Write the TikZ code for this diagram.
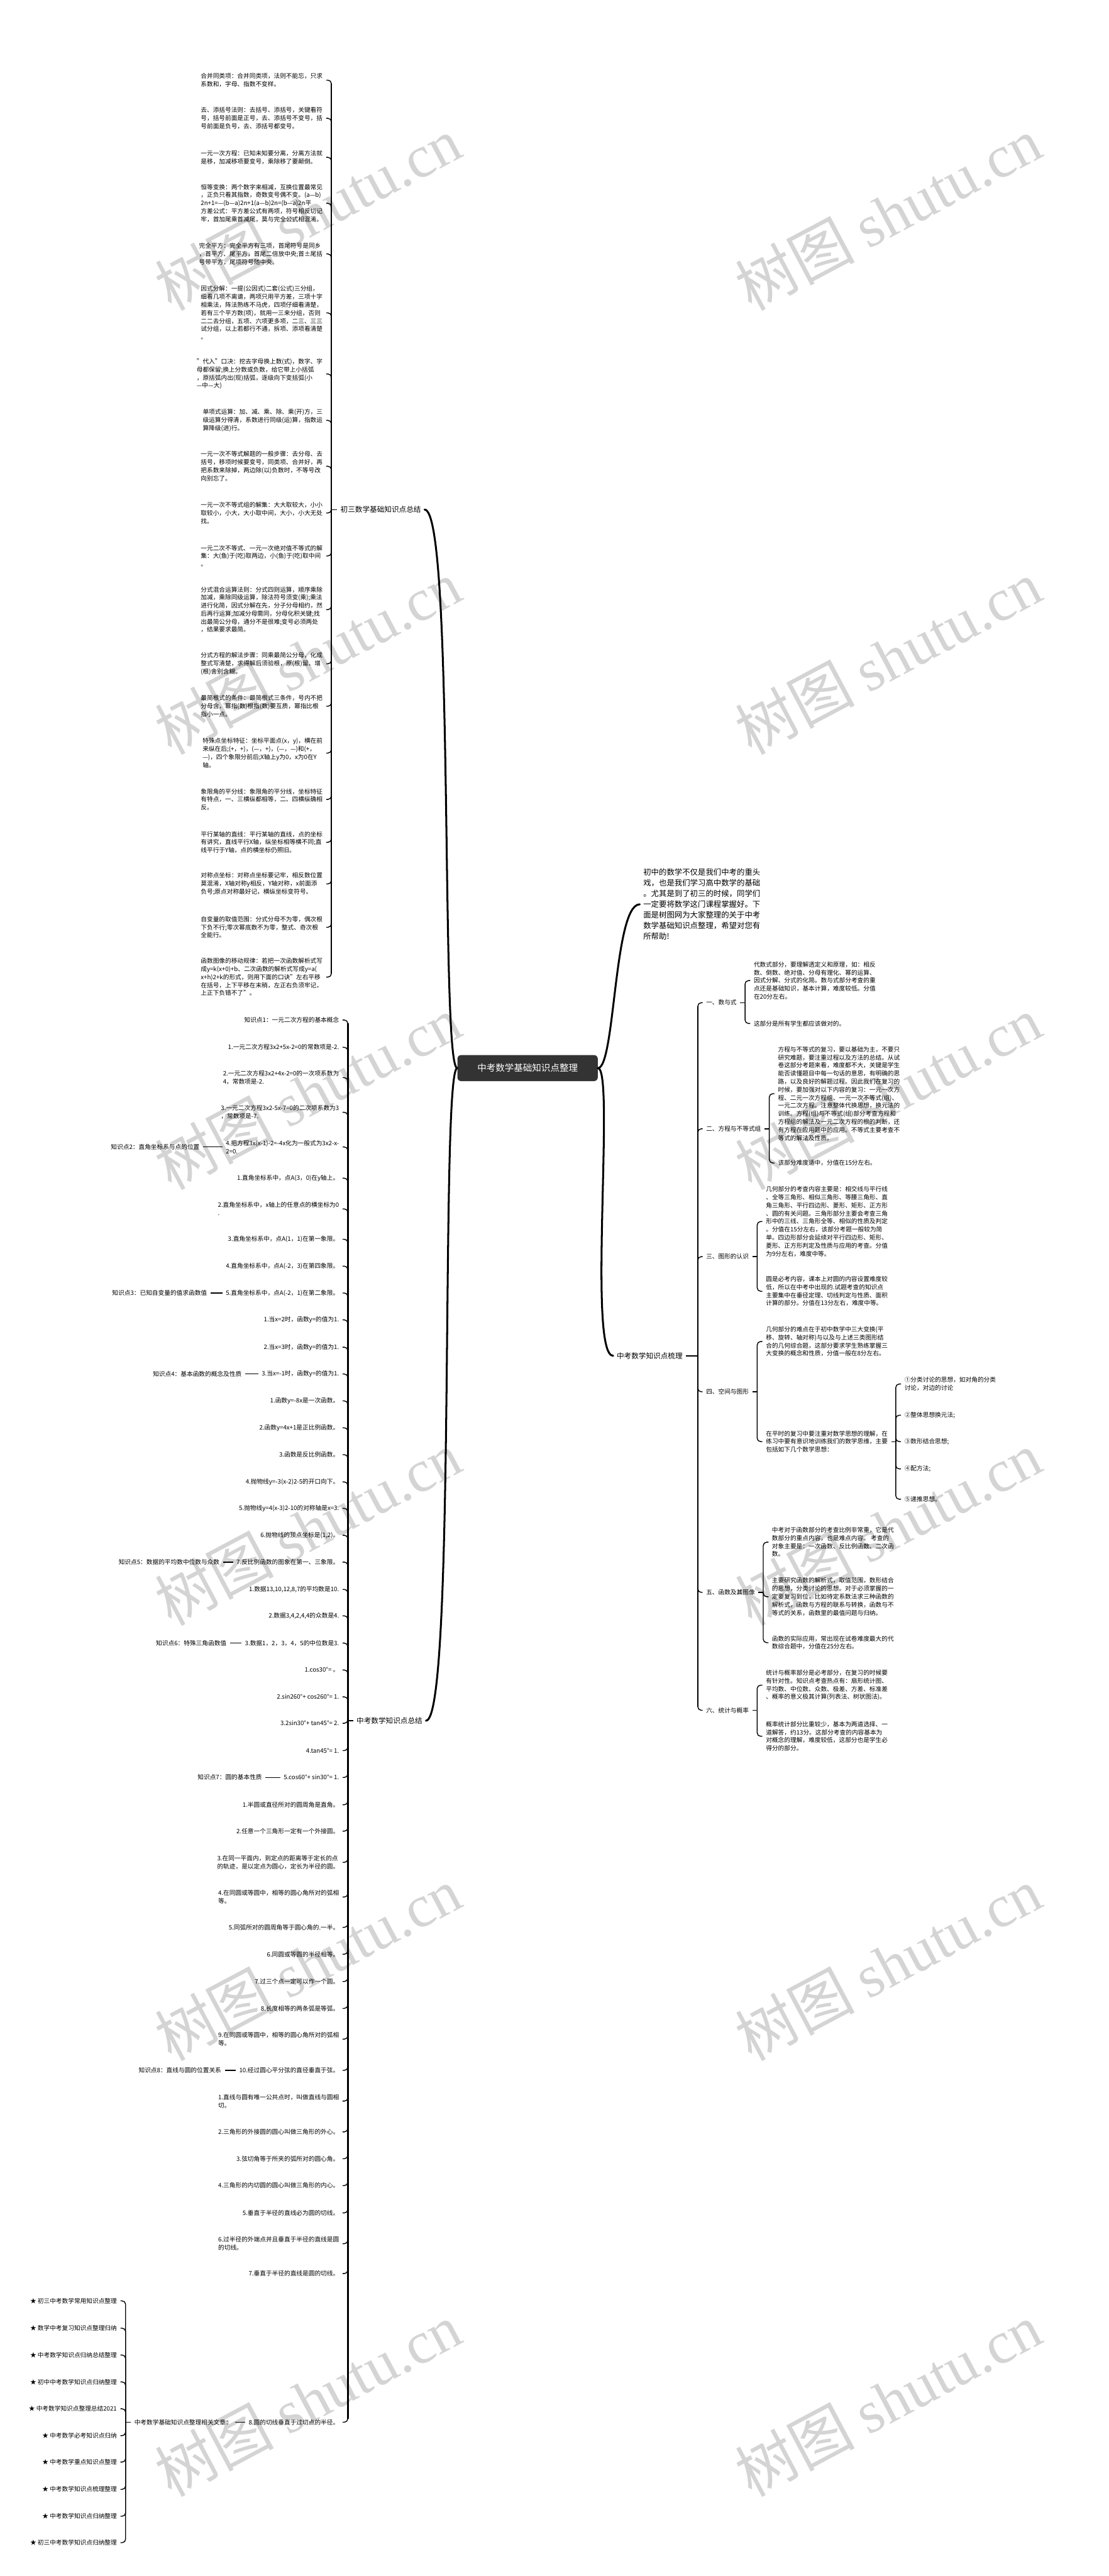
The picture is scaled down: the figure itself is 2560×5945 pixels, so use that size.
\documentclass[tikz,border=0pt]{standalone}
\usepackage{fontspec}
\setmainfont{Noto Sans CJK SC}
\newfontfamily\wmfont{Liberation Serif}
\usetikzlibrary{positioning,calc}
\definecolor{rootgray}{RGB}{51,51,51}
\definecolor{wmgray}{RGB}{212,212,212}

\begin{document}
\begin{tikzpicture}[x=0.25mm, y=-0.25mm,
    root/.style={fill=rootgray, text=white, rounded corners=6pt, minimum width=81mm,
      minimum height=15mm, font=\fontsize{15}{17}\selectfont},
    topic/.style={inner xsep=2mm, inner ysep=1mm, font=\fontsize{12}{15}\selectfont},
    sub/.style={inner xsep=2mm, inner ysep=1mm, font=\fontsize{10}{13.2}\selectfont},
    leaf/.style={align=left, inner xsep=2mm, inner ysep=1mm, font=\fontsize{10}{13.2}\selectfont},
    intro/.style={align=left, inner xsep=2mm, font=\fontsize{12.8}{17.6}\selectfont},
    wm/.style={text=wmgray, rotate=28, font=\fontsize{98}{98}\selectfont},
    limb/.style={line width=1.1mm, line cap=round},
    spine/.style={line width=1mm, shorten <=2mm, shorten >=2mm},
    twig/.style={line width=0.5mm, rounded corners=2mm}
  ]
  \path[use as bounding box] (0,0) rectangle (2560,5945);
  \foreach \wx/\wy in {710/493, 2050/493, 710/1517, 2050/1517, 710/2522, 2050/2522,
      710/3527, 2050/3527, 710/4532, 2050/4532, 710/5538, 2050/5538}
    \node[wm] (wm-\wx-\wy) at (\wx,\wy) {树图 {\wmfont shutu.cn}};

  \node[root] (root) at (1218,2465) {中考数学基础知识点整理};
  \node[intro, anchor=west] (intro) at (1477,2087)
    {初中的数学不仅是我们中考的重头\\戏，也是我们学习高中数学的基础\\。尤其是到了初三的时候，同学们\\一定要将数学这门课程掌握好。下\\面是树图网为大家整理的关于中考\\数学基础知识点整理，希望对您有\\所帮助!};

  % 初三数学基础知识点总结
  \node[topic, anchor=west] (b1) at (778,1176) {初三数学基础知识点总结};
  \node[leaf, anchor=east] (a1) at (753,185) {合并同类项：合并同类项，法则不能忘，只求\\系数和，字母、指数不变样。};
  \node[leaf, anchor=east] (a2) at (753,273) {去、添括号法则：去括号、添括号，关键看符\\号，括号前面是正号，去、添括号不变号，括\\号前面是负号，去、添括号都变号。};
  \node[leaf, anchor=east] (a3) at (753,363) {一元一次方程：已知未知要分离，分离方法就\\是移，加减移项要变号，乘除移了要颠倒。};
  \node[leaf, anchor=east] (a4) at (753,469) {恒等变换：两个数字来相减，互换位置最常见\\，正负只看其指数，奇数变号偶不变。(a—b)\\2n+1=—(b—a)2n+1(a—b)2n=(b—a)2n平\\方差公式：平方差公式有两项，符号相反切记\\牢，首加尾乘首减尾，莫与完全公式相混淆。};
  \node[leaf, anchor=east] (a5) at (753,586) {完全平方：完全平方有三项，首尾符号是同乡\\，首平方、尾平方，首尾二倍放中央;首±尾括\\号带平方，尾项符号随中央。};
  \node[leaf, anchor=east] (a6) at (753,722) {因式分解：一提(公因式)二套(公式)三分组，\\细看几项不离谱，两项只用平方差，三项十字\\相乘法，阵法熟练不马虎，四项仔细看清楚，\\若有三个平方数(项)，就用一三来分组，否则\\二二去分组，五项、六项更多项，二三、三三\\试分组，以上若都行不通，拆项、添项看清楚\\。};
  \node[leaf, anchor=east] (a7) at (753,863) {"代入"口决：挖去字母换上数(式)，数字、字\\母都保留;换上分数或负数，给它带上小括弧\\，原括弧内出(现)括弧，逐级向下变括弧(小\\—中—大)};
  \node[leaf, anchor=east] (a8) at (753,970) {单项式运算：加、减、乘、除、乘(开)方，三\\级运算分得清，系数进行同级(运)算，指数运\\算降级(进)行。};
  \node[leaf, anchor=east] (a9) at (753,1076) {一元一次不等式解题的一般步骤：去分母、去\\括号，移项时候要变号，同类项、合并好，再\\把系数来除掉，两边除(以)负数时，不等号改\\向别忘了。};
  \node[leaf, anchor=east] (a10) at (753,1184) {一元一次不等式组的解集：大大取较大，小小\\取较小，小大，大小取中间，大小，小大无处\\找。};
  \node[leaf, anchor=east] (a11) at (753,1283) {一元二次不等式、一元一次绝对值不等式的解\\集：大(鱼)于(吃)取两边，小(鱼)于(吃)取中间\\。};
  \node[leaf, anchor=east] (a12) at (753,1407) {分式混合运算法则：分式四则运算，顺序乘除\\加减，乘除同级运算，除法符号须变(乘);乘法\\进行化简，因式分解在先，分子分母相约，然\\后再行运算;加减分母需同，分母化积关键;找\\出最简公分母，通分不是很难;变号必须两处\\，结果要求最简。};
  \node[leaf, anchor=east] (a13) at (753,1532) {分式方程的解法步骤：同乘最简公分母，化成\\整式写清楚，求得解后须验根，原(根)留、增\\(根)舍别含糊。};
  \node[leaf, anchor=east] (a14) at (753,1630) {最简根式的条件：最简根式三条件，号内不把\\分母含，幂指(数)根指(数)要互质，幂指比根\\指小一点。};
  \node[leaf, anchor=east] (a15) at (753,1738) {特殊点坐标特征：坐标平面点(x，y)，横在前\\来纵在后;(+，+)，(—，+)，(—，—)和(+，\\—)，四个象限分前后;X轴上y为0，x为0在Y\\轴。};
  \node[leaf, anchor=east] (a16) at (753,1845) {象限角的平分线：象限角的平分线，坐标特征\\有特点，一、三横纵都相等，二、四横纵确相\\反。};
  \node[leaf, anchor=east] (a17) at (753,1944) {平行某轴的直线：平行某轴的直线，点的坐标\\有讲究，直线平行X轴，纵坐标相等横不同;直\\线平行于Y轴，点的横坐标仍照旧。};
  \node[leaf, anchor=east] (a18) at (753,2040) {对称点坐标：对称点坐标要记牢，相反数位置\\莫混淆，X轴对称y相反，Y轴对称，x前面添\\负号;原点对称最好记，横纵坐标变符号。};
  \node[leaf, anchor=east] (a19) at (753,2140) {自变量的取值范围：分式分母不为零，偶次根\\下负不行;零次幂底数不为零，整式、奇次根\\全能行。};
  \node[leaf, anchor=east] (a20) at (753,2255) {函数图像的移动规律：若把一次函数解析式写\\成y=k(x+0)+b、二次函数的解析式写成y=a(\\x+h)2+k的形式，则用下面的口诀"左右平移\\在括号，上下平移在末稍，左正右负须牢记，\\上正下负错不了"。};

  % 中考数学知识点梳理
  \node[topic, anchor=east] (b2) at (1584,3129) {中考数学知识点梳理};
  \node[sub, anchor=west] (t1) at (1622,2314) {一、数与式};
  \node[sub, anchor=west] (t2) at (1622,2605) {二、方程与不等式组};
  \node[sub, anchor=west] (t3) at (1622,2900) {三、图形的认识};
  \node[sub, anchor=west] (t4) at (1622,3212) {四、空间与图形};
  \node[sub, anchor=west] (t5) at (1622,3675) {五、函数及其图像};
  \node[sub, anchor=west] (t6) at (1622,3947) {六、统计与概率};
  \node[leaf, anchor=west] (pA) at (1732,2263) {代数式部分，要理解透定义和原理，如：相反\\数、倒数、绝对值、分母有理化、幂的运算、\\因式分解、分式的化简。数与式部分考查的重\\点还是基础知识，基本计算，难度较低。分值\\在20分左右。};
  \node[leaf, anchor=west] (pB) at (1732,2362) {这部分是所有学生都应该做对的。};
  \node[leaf, anchor=west] (pC) at (1788,2524) {方程与不等式的复习，要以基础为主，不要只\\研究难题，要注重过程以及方法的总结。从试\\卷这部分考题来看，难度都不大，关键是学生\\能否读懂题目中每一句话的意思，有明确的思\\路，以及良好的解题过程。因此我们在复习的\\时候，要加强对以下内容的复习：一元一次方\\程、二元一次方程组、一元一次不等式(组)、\\一元二次方程。注意整体代换思想，换元法的\\训练。方程(组)与不等式(组)部分考查方程和\\方程组的解法及一元二次方程的根的判断，还\\有方程在应用题中的应用。不等式主要考查不\\等式的解法及性质。};
  \node[leaf, anchor=west] (pD) at (1788,2684) {该部分难度适中，分值在15分左右。};
  \node[leaf, anchor=west] (pE) at (1760,2819) {几何部分的考查内容主要是：相交线与平行线\\、全等三角形、相似三角形、等腰三角形、直\\角三角形、平行四边形、菱形、矩形、正方形\\、圆的有关问题。三角形部分主要会考查三角\\形中的三线、三角形全等、相似的性质及判定\\。分值在15分左右，该部分考题一般较为简\\单。四边形部分会延续对平行四边形、矩形、\\菱形、正方形判定及性质与应用的考查。分值\\为9分左右，难度中等。};
  \node[leaf, anchor=west] (pF) at (1760,2980) {圆是必考内容，课本上对圆的内容设置难度较\\低，所以在中考中出现的.试题考查的知识点\\主要集中在垂径定理、切线判定与性质、面积\\计算的部分。分值在13分左右，难度中等。};
  \node[leaf, anchor=west] (pG) at (1760,3096) {几何部分的难点在于初中数学中三大变换(平\\移、旋转、轴对称)与以及与上述三类图形结\\合的几何综合题，这部分要求学生熟练掌握三\\大变换的概念和性质，分值一般在8分左右。};
  \node[leaf, anchor=west] (pH) at (1760,3327) {在平时的复习中要注重对数学思想的理解，在\\练习中要有意识地训练我们的数学思维，主要\\包括如下几个数学思想：};
  \node[leaf, anchor=west] (m1) at (2080,3194) {①分类讨论的思想，如对角的分类\\讨论，对边的讨论};
  \node[leaf, anchor=west] (m2) at (2080,3266) {②整体思想换元法;};
  \node[leaf, anchor=west] (m3) at (2080,3327) {③数形结合思想;};
  \node[leaf, anchor=west] (m4) at (2080,3390) {④配方法;};
  \node[leaf, anchor=west] (m5) at (2080,3460) {⑤递推思想。};
  \node[leaf, anchor=west] (pI) at (1774,3559) {中考对于函数部分的考查比例非常重，它是代\\数部分的重点内容，也是难点内容。 考查的\\对象主要是：一次函数、反比例函数、二次函\\数。};
  \node[leaf, anchor=west] (pJ) at (1774,3685) {主要研究函数的解析式，取值范围，数形结合\\的思想，分类讨论的思想。对于必须掌握的一\\定要复习到位，比如待定系数法求三种函数的\\解析式，函数与方程的联系与转换，函数与不\\等式的关系，函数里的最值问题与归纳。};
  \node[leaf, anchor=west] (pK) at (1774,3791) {函数的实际应用，常出现在试卷难度最大的代\\数综合题中，分值在25分左右。};
  \node[leaf, anchor=west] (pL) at (1760,3889) {统计与概率部分是必考部分，在复习的时候要\\有针对性。知识点考查热点有：扇形统计图、\\平均数、中位数、众数、极差、方差、标准差\\、概率的意义极其计算(列表法、树状图法)。};
  \node[leaf, anchor=west] (pM) at (1760,4007) {概率统计部分比重较少，基本为两道选择、一\\道解答，约13分。这部分考查的内容基本为\\对概念的理解，难度较低，这部分也是学生必\\得分的部分。};

  % 中考数学知识点总结
  \node[topic, anchor=west] (b3) at (815,3971) {中考数学知识点总结};
  \node[leaf, anchor=east] (c1) at (791,2354) {知识点1：一元二次方程的基本概念};
  \node[leaf, anchor=east] (c2) at (791,2417) {1.一元二次方程3x2+5x-2=0的常数项是-2.};
  \node[leaf, anchor=east] (c3) at (791,2487) {2.一元二次方程3x2+4x-2=0的一次项系数为\\4，常数项是-2.};
  \node[leaf, anchor=east] (c4) at (791,2567) {3.一元二次方程3x2-5x-7=0的二次项系数为3\\，常数项是-7.};
  \node[leaf, anchor=east] (c5) at (791,2647) {4.把方程3x(x-1)-2=-4x化为一般式为3x2-x-\\2=0.};
  \node[leaf, anchor=east] (c6) at (791,2719) {1.直角坐标系中，点A(3，0)在y轴上。};
  \node[leaf, anchor=east] (c7) at (791,2790) {2.直角坐标系中，x轴上的任意点的横坐标为0\\.};
  \node[leaf, anchor=east] (c8) at (791,2860) {3.直角坐标系中，点A(1，1)在第一象限。};
  \node[leaf, anchor=east] (c9) at (791,2922) {4.直角坐标系中，点A(-2，3)在第四象限。};
  \node[leaf, anchor=east] (c10) at (791,2984) {5.直角坐标系中，点A(-2，1)在第二象限。};
  \node[leaf, anchor=east] (c11) at (791,3046) {1.当x=2时，函数y=的值为1.};
  \node[leaf, anchor=east] (c12) at (791,3109) {2.当x=3时，函数y=的值为1.};
  \node[leaf, anchor=east] (c13) at (791,3171) {3.当x=-1时，函数y=的值为1.};
  \node[leaf, anchor=east] (c14) at (791,3233) {1.函数y=-8x是一次函数。};
  \node[leaf, anchor=east] (c15) at (791,3295) {2.函数y=4x+1是正比例函数。};
  \node[leaf, anchor=east] (c16) at (791,3357) {3.函数是反比例函数。};
  \node[leaf, anchor=east] (c17) at (791,3420) {4.抛物线y=-3(x-2)2-5的开口向下。};
  \node[leaf, anchor=east] (c18) at (791,3481) {5.抛物线y=4(x-3)2-10的对称轴是x=3.};
  \node[leaf, anchor=east] (c19) at (791,3543) {6.抛物线的顶点坐标是(1,2)。};
  \node[leaf, anchor=east] (c20) at (791,3605) {7.反比例函数的图象在第一、三象限。};
  \node[leaf, anchor=east] (c21) at (791,3668) {1.数据13,10,12,8,7的平均数是10.};
  \node[leaf, anchor=east] (c22) at (791,3729) {2.数据3,4,2,4,4的众数是4.};
  \node[leaf, anchor=east] (c23) at (791,3792) {3.数据1，2，3，4，5的中位数是3.};
  \node[leaf, anchor=east] (c24) at (791,3854) {1.cos30°= 。};
  \node[leaf, anchor=east] (c25) at (791,3916) {2.sin260°+ cos260°= 1.};
  \node[leaf, anchor=east] (c26) at (791,3977) {3.2sin30°+ tan45°= 2.};
  \node[leaf, anchor=east] (c27) at (791,4040) {4.tan45°= 1.};
  \node[leaf, anchor=east] (c28) at (791,4102) {5.cos60°+ sin30°= 1.};
  \node[leaf, anchor=east] (c29) at (791,4165) {1.半圆或直径所对的圆周角是直角。};
  \node[leaf, anchor=east] (c30) at (791,4226) {2.任意一个三角形一定有一个外接圆。};
  \node[leaf, anchor=east] (c31) at (791,4298) {3.在同一平面内，到定点的距离等于定长的点\\的轨迹，是以定点为圆心，定长为半径的圆。};
  \node[leaf, anchor=east] (c32) at (791,4378) {4.在同圆或等圆中，相等的圆心角所对的弧相\\等。};
  \node[leaf, anchor=east] (c33) at (791,4448) {5.同弧所对的圆周角等于圆心角的.一半。};
  \node[leaf, anchor=east] (c34) at (791,4510) {6.同圆或等圆的半径相等。};
  \node[leaf, anchor=east] (c35) at (791,4573) {7.过三个点一定可以作一个圆。};
  \node[leaf, anchor=east] (c36) at (791,4635) {8.长度相等的两条弧是等弧。};
  \node[leaf, anchor=east] (c37) at (791,4706) {9.在同圆或等圆中，相等的圆心角所对的弧相\\等。};
  \node[leaf, anchor=east] (c38) at (791,4778) {10.经过圆心平分弦的直径垂直于弦。};
  \node[leaf, anchor=east] (c39) at (791,4849) {1.直线与圆有唯一公共点时，叫做直线与圆相\\切。};
  \node[leaf, anchor=east] (c40) at (791,4920) {2.三角形的外接圆的圆心叫做三角形的外心。};
  \node[leaf, anchor=east] (c41) at (791,4982) {3.弦切角等于所夹的弧所对的圆心角。};
  \node[leaf, anchor=east] (c42) at (791,5044) {4.三角形的内切圆的圆心叫做三角形的内心。};
  \node[leaf, anchor=east] (c43) at (791,5107) {5.垂直于半径的直线必为圆的切线。};
  \node[leaf, anchor=east] (c44) at (791,5178) {6.过半径的外端点并且垂直于半径的直线是圆\\的切线。};
  \node[leaf, anchor=east] (c45) at (791,5247) {7.垂直于半径的直线是圆的切线。};
  \node[leaf, anchor=east] (c46) at (791,5590) {8.圆的切线垂直于过切点的半径。};
  \node[leaf, anchor=east] (k2) at (469,2647) {知识点2：直角坐标系与点的位置};
  \node[leaf, anchor=east] (k3) at (486,2984) {知识点3：已知自变量的值求函数值};
  \node[leaf, anchor=east] (k4) at (566,3171) {知识点4：基本函数的概念及性质};
  \node[leaf, anchor=east] (k5) at (515,3605) {知识点5：数据的平均数中位数与众数};
  \node[leaf, anchor=east] (k6) at (531,3792) {知识点6：特殊三角函数值};
  \node[leaf, anchor=east] (k7) at (613,4102) {知识点7：圆的基本性质};
  \node[leaf, anchor=east] (k8) at (519,4778) {知识点8：直线与圆的位置关系};
  \node[leaf, anchor=west] (rel) at (302,5590) {中考数学基础知识点整理相关文章：};
  \node[leaf, anchor=east] (s1) at (278,5310) {★ 初三中考数学常用知识点整理};
  \node[leaf, anchor=east] (s2) at (278,5373) {★ 数学中考复习知识点整理归纳};
  \node[leaf, anchor=east] (s3) at (278,5435) {★ 中考数学知识点归纳总结整理};
  \node[leaf, anchor=east] (s4) at (278,5497) {★ 初中中考数学知识点归纳整理};
  \node[leaf, anchor=east] (s5) at (278,5559) {★ 中考数学知识点整理总结2021};
  \node[leaf, anchor=east] (s6) at (278,5621) {★ 中考数学必考知识点归纳};
  \node[leaf, anchor=east] (s7) at (278,5682) {★ 中考数学重点知识点整理};
  \node[leaf, anchor=east] (s8) at (278,5745) {★ 中考数学知识点梳理整理};
  \node[leaf, anchor=east] (s9) at (278,5807) {★ 中考数学知识点归纳整理};
  \node[leaf, anchor=east] (s10) at (278,5868) {★ 初三中考数学知识点归纳整理};

  % connectors
  \draw[limb] (root.west) .. controls +(-40,0) and +(70,0) .. (b1.east);
  \draw[limb] (root.west) .. controls +(-40,0) and +(70,0) .. (b3.east);
  \draw[limb] (root.east) .. controls +(40,0) and +(-60,0) .. (intro.west);
  \draw[limb] (root.east) .. controls +(40,0) and +(-60,0) .. (b2.west);

  \coordinate (j1) at (765,1176);
  \draw[twig] (b1.west) -- (j1);
  \draw[spine] (j1 |- a1.east) -- (j1 |- a20.east);
  \foreach \n in {1,...,20} \draw[twig] (j1) |- (a\n.east);

  \coordinate (j3) at (803,3971);
  \draw[twig] (b3.west) -- (j3);
  \draw[spine] (j3 |- c1.east) -- (j3 |- c46.east);
  \foreach \n in {1,...,46} \draw[twig] (j3) |- (c\n.east);
  \foreach \c/\k in {5/2,10/3,13/4,20/5,23/6,28/7,38/8} \draw[twig] (c\c.west) -- (k\k.east);
  \draw[twig] (c46.west) -- (rel.east);
  \coordinate (jr) at (290,5590);
  \draw[twig] (rel.west) -- (jr);
  \foreach \n in {1,...,10} \draw[twig] (jr) |- (s\n.east);

  \coordinate (j2) at (1611,3129);
  \draw[twig] (b2.east) -- (j2);
  \draw[spine] (j2 |- t1.west) -- (j2 |- t6.west);
  \foreach \n in {1,...,6} \draw[twig] (j2) |- (t\n.west);
  \coordinate (u1) at (1720,2314);
  \coordinate (u2) at (1776,2605);
  \coordinate (u3) at (1748,2900);
  \coordinate (u4) at (1748,3212);
  \coordinate (u5) at (1762,3675);
  \coordinate (u6) at (1748,3947);
  \foreach \n in {1,...,6} \draw[twig] (t\n.east) -- (u\n);
  \foreach \u/\p in {1/A,1/B,2/C,2/D,3/E,3/F,4/G,4/H,5/I,5/J,5/K,6/L,6/M}
    \draw[twig] (u\u) |- (p\p.west);
  \coordinate (uH) at (2068,3327);
  \draw[twig] (pH.east) -- (uH);
  \foreach \n in {1,...,5} \draw[twig] (uH) |- (m\n.west);
\end{tikzpicture}
\end{document}
